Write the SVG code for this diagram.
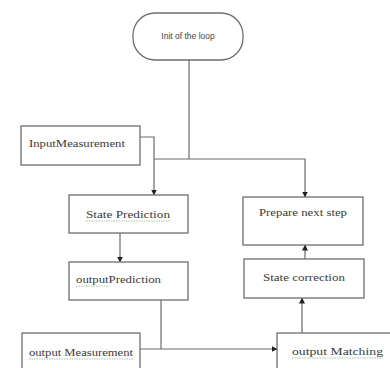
<svg xmlns="http://www.w3.org/2000/svg" width="390" height="368" viewBox="0 0 390 368">
<style>
.box{fill:#fff;stroke:#6e6e6e;stroke-width:1.3}
.lbl{font-family:"Liberation Serif","Times New Roman",serif;font-size:11px;fill:#3a3a3a}
.sm{font-family:"Liberation Sans",Arial,sans-serif;font-size:8.5px;fill:#444}
.con{fill:none;stroke:#6a6a6a;stroke-width:1.2}
.sq{stroke:#8fb58f;stroke-width:0.8;stroke-dasharray:1.5 1}
</style>
<defs>
<marker id="ah" viewBox="0 0 6 6" refX="5.5" refY="3" markerWidth="6" markerHeight="6" orient="auto" markerUnits="userSpaceOnUse">
<path d="M0,0 L6,3 L0,6 z" fill="#222"/>
</marker>
</defs>
<rect width="390" height="368" fill="#fff"/>
<g id="connectors">
<path class="con" d="M189,60 V159"/>
<path class="con" d="M154,159 H305 V197" marker-end="url(#ah)"/>
<path class="con" d="M140,137 H154 V195" marker-end="url(#ah)"/>
<path class="con" d="M120,233 V262" marker-end="url(#ah)"/>
<path class="con" d="M161,300 V349"/>
<path class="con" d="M140,349 H277" marker-end="url(#ah)"/>
<path class="con" d="M302,333 V298" marker-end="url(#ah)"/>
<path class="con" d="M305,259 V245" marker-end="url(#ah)"/>
</g>
<g id="init">
<rect class="box" x="133" y="13" width="110" height="47" rx="22"/>
<text class="sm" x="188" y="39" text-anchor="middle">Init of the loop</text>
</g>
<g id="inputMeasurement">
<rect class="box" x="21" y="126" width="119" height="39"/>
<text class="lbl" x="29" y="147" textLength="96" lengthAdjust="spacingAndGlyphs">InputMeasurement</text>
</g>
<g id="statePrediction">
<rect class="box" x="69" y="195" width="119" height="38"/>
<text class="lbl" x="86" y="218" textLength="84" lengthAdjust="spacingAndGlyphs">State  Prediction</text>
<line class="sq" x1="86" y1="221" x2="170" y2="221"/>
</g>
<g id="outputPrediction">
<rect class="box" x="69" y="262" width="119" height="38"/>
<text class="lbl" x="76" y="283" textLength="85" lengthAdjust="spacingAndGlyphs">outputPrediction</text>
<line class="sq" x1="76" y1="286" x2="109" y2="286"/>
</g>
<g id="outputMeasurement">
<rect class="box" x="22" y="333" width="118" height="40"/>
<text class="lbl" x="29" y="356" textLength="104" lengthAdjust="spacingAndGlyphs">output  Measurement</text>
<line class="sq" x1="29" y1="359" x2="133" y2="359"/>
</g>
<g id="prepareNextStep">
<rect class="box" x="243" y="197" width="120" height="48"/>
<text class="lbl" x="259" y="216" textLength="88" lengthAdjust="spacingAndGlyphs">Prepare next step</text>
</g>
<g id="stateCorrection">
<rect class="box" x="244" y="259" width="120" height="39"/>
<text class="lbl" x="263" y="281" textLength="82" lengthAdjust="spacingAndGlyphs">State correction</text>
</g>
<g id="outputMatching">
<rect class="box" x="277" y="333" width="120" height="40"/>
<text class="lbl" x="292" y="355" textLength="91" lengthAdjust="spacingAndGlyphs">output  Matching</text>
<line class="sq" x1="292" y1="358" x2="383" y2="358"/>
</g>
</svg>
